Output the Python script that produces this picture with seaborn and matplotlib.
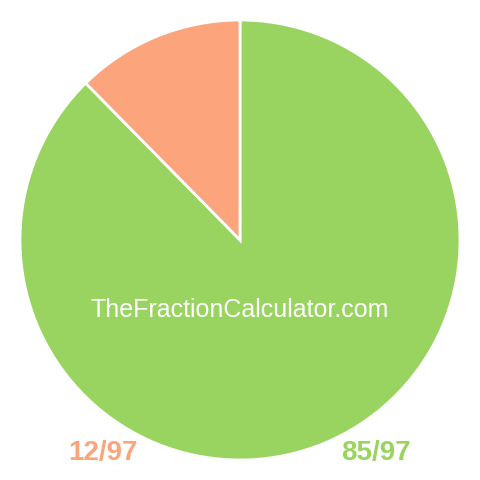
import matplotlib
matplotlib.use("Agg")
import matplotlib.pyplot as plt
import seaborn as sns

# Data
labels = ["85/97", "12/97"]
values = [85, 12]
colors = ["#98D45F", "#FCA57C"]
watermark = "TheFractionCalculator.com"

sns.set_theme(style="white")
plt.rcParams['font.family'] = ['Liberation Sans', 'DejaVu Sans']

fig = plt.figure(figsize=(4.8, 4.8), dpi=100)
ax = fig.add_axes([0, 0, 1, 1])

ax.pie(
    values,
    colors=colors,
    startangle=90,
    counterclock=False,
    radius=1,
    wedgeprops={'edgecolor': 'white', 'linewidth': 2}
)

lim = 240 / 220
ax.set_xlim(-lim, lim)
ax.set_ylim(-lim, lim)
ax.set_aspect('equal')
ax.axis('off')

# Centre watermark
ax.text(0, -0.32, watermark, color='white', fontsize=18,
        ha='center', va='center')

# Fraction labels under the pie
ax.text(-0.623, -0.97, labels[1], color=colors[1], fontsize=20,
        fontweight='bold', ha='center', va='center')
ax.text(0.618, -0.97, labels[0], color=colors[0], fontsize=20,
        fontweight='bold', ha='center', va='center')

fig.savefig("out.png", dpi=100)
plt.close()
